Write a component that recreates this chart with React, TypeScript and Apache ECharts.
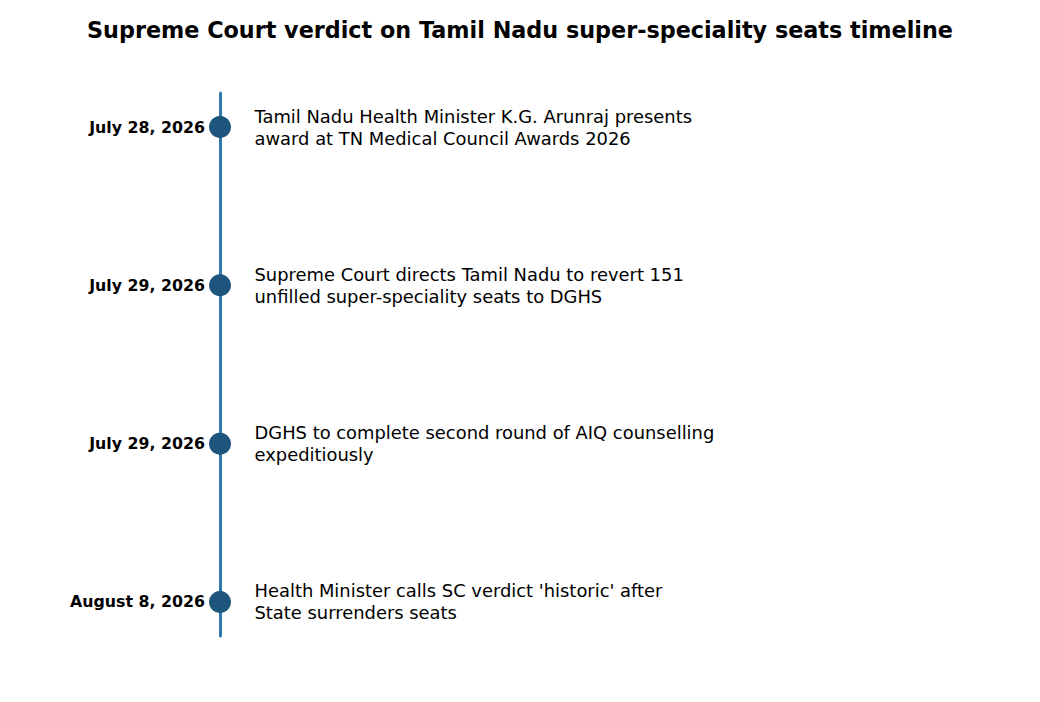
import React, { useEffect, useRef } from 'react';
import * as echarts from 'echarts';

const dates = ['July 28, 2026', 'July 29, 2026', 'July 29, 2026', 'August 8, 2026'];
const events = [
  'Tamil Nadu Health Minister K.G. Arunraj presents\naward at TN Medical Council Awards 2026',
  'Supreme Court directs Tamil Nadu to revert 151\nunfilled super-speciality seats to DGHS',
  'DGHS to complete second round of AIQ counselling\nexpeditiously',
  "Health Minister calls SC verdict 'historic' after\nState surrenders seats",
];

const App: React.FC = () => {
  const chartRef: any = useRef(null);

  useEffect(() => {
    const chart = echarts.init(chartRef.current, null, { renderer: 'svg' });
    const font = 'DejaVu Sans';
    const option = {
      animation: false,
      title: {
        text: 'Supreme Court verdict on Tamil Nadu super-speciality seats timeline',
        left: 'center',
        top: 14,
        textStyle: { fontFamily: font, fontSize: 22.3, fontWeight: 'bold', color: '#000' },
      },
      grid: { left: 220, right: 20, top: 93, bottom: 66 },
      xAxis: { type: 'value', min: 0, max: 1, show: false },
      yAxis: {
        type: 'value',
        inverse: true,
        min: -0.215,
        max: 3.215,
        splitLine: { show: false },
        axisTick: { show: false },
        axisLabel: { show: false },
        axisLine: { show: true, lineStyle: { color: '#2f79ae', width: 3 } },
      },
      series: [
        {
          type: 'scatter',
          symbolSize: 22,
          itemStyle: { color: '#1d557c', opacity: 1 },
          data: dates.map((d, i) => [0, i]),
          label: {
            show: true,
            position: 'left',
            distance: 4,
            formatter: (p: any) => dates[p.dataIndex],
            fontFamily: font,
            fontSize: 15.8,
            fontWeight: 'bold',
            color: '#000',
          },
          z: 3,
        },
        {
          type: 'scatter',
          symbolSize: 1,
          itemStyle: { color: 'rgba(0,0,0,0)' },
          data: events.map((e, i) => [0, i]),
          label: {
            show: true,
            position: 'right',
            distance: 34,
            formatter: (p: any) => events[p.dataIndex],
            fontFamily: font,
            fontSize: 17.9,
            lineHeight: 22,
            color: '#000',
            opacity: 1,
          },
        },
      ],
    };
    chart.setOption(option as any);
    return () => {
      chart.dispose();
    };
  }, []);

  return <div ref={chartRef} style={{ width: 1040, height: 702, margin: -8 }} />;
};

export default App;
